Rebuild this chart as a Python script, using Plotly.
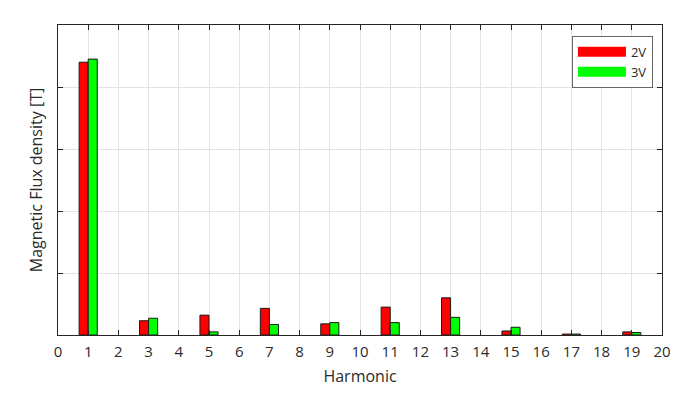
import plotly.graph_objects as go

harmonics = [1, 3, 5, 7, 9, 11, 13, 15, 17, 19]
flux_2v = [4.40, 0.23, 0.32, 0.43, 0.18, 0.45, 0.60, 0.065, 0.015, 0.05]
flux_3v = [4.45, 0.27, 0.05, 0.17, 0.20, 0.20, 0.285, 0.125, 0.015, 0.04]
x_ticks = list(range(0, 21))
y_ticks = [0, 1, 2, 3, 4, 5]

fig = go.Figure()
fig.add_trace(go.Bar(x=harmonics, y=flux_2v, name="2V", marker=dict(color="#ff0000", line=dict(color="#1a1a1a", width=1)),
                     width=0.3, offset=-0.3, showlegend=False))
fig.add_trace(go.Bar(x=harmonics, y=flux_3v, name="3V", marker=dict(color="#00ff00", line=dict(color="#1a1a1a", width=1)),
                     width=0.3, offset=0.0, showlegend=False))
# legend proxies
fig.add_trace(go.Scatter(x=[None], y=[None], mode="lines", name="2V", line=dict(color="#ff0000", width=14)))
fig.add_trace(go.Scatter(x=[None], y=[None], mode="lines", name="3V", line=dict(color="#00ff00", width=14)))

axis_common = dict(
    showline=True, linecolor="#262626", linewidth=1, mirror="ticks",
    ticks="inside", ticklen=5, tickcolor="#262626", automargin=False,
    showgrid=True, gridcolor="#e3e3e3", gridwidth=1, zeroline=False,
)
fig.update_xaxes(range=[0, 20], tickvals=x_ticks, ticktext=[str(t) for t in x_ticks],
                 title=dict(text="Harmonic", font=dict(size=16, color="#2b2b2b"), standoff=10),
                 tickfont=dict(size=15, color="#2b2b2b"), ticklabelstandoff=3, **axis_common)
fig.update_yaxes(range=[0, 5], tickvals=y_ticks, showticklabels=False,
                 title=dict(text="Magnetic Flux density [T]", font=dict(size=16, color="#2b2b2b"), standoff=10),
                 **axis_common)
fig.update_layout(
    width=692, height=398,
    margin=dict(l=50, r=38, t=17, b=71),
    plot_bgcolor="white", paper_bgcolor="white",
    font=dict(family="Open Sans", color="#2b2b2b"),
    barmode="overlay",
    legend=dict(x=0.985, y=0.965, xanchor="right", yanchor="top", bgcolor="white",
                bordercolor="#666666", borderwidth=1, font=dict(size=13, color="#2b2b2b"),
                itemwidth=48, tracegroupgap=0),
)
fig.write_html("out.html")
